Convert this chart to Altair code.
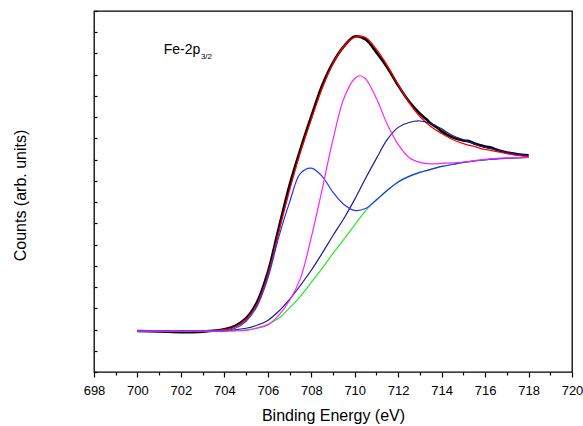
import altair as alt
import pandas as pd

# ---- data (binding energy in eV, counts in arb. units) ----
exp_energy = [700, 701, 702, 703, 704, 704.5, 705, 705.5, 706, 706.5, 707, 707.5, 708, 708.5,
              709, 709.5, 710, 710.5, 711, 711.5, 712, 712.5, 713, 713.3, 713.5, 713.8, 714,
              714.5, 715, 715.3, 715.5, 716, 716.3, 716.5, 717, 717.2, 717.5, 718]
exp_counts = [1930, 1915, 1880, 1900, 2010, 2170, 2530, 3280, 4690, 6760, 8790, 10480, 12030, 13490,
              14570, 15330, 15800, 15660, 15050, 14340, 13490, 12740, 12170, 11900, 11700, 11500, 11330,
              11050, 10900, 10860, 10760, 10620, 10560, 10480, 10340, 10300, 10250, 10200]

fit_energy = [700, 703, 703.5, 704, 704.5, 705, 705.5, 706, 706.5, 707, 707.5, 708, 708.5, 709,
              709.5, 710, 710.5, 711, 711.5, 712, 712.5, 713, 713.5, 714, 714.5, 715, 715.5, 716,
              716.5, 717, 717.5, 718]
fit_counts = [1930, 1930, 1940, 1990, 2130, 2480, 3190, 4550, 6570, 8550, 10340, 11890, 13350, 14530,
              15330, 15770, 15750, 15190, 14430, 13540, 12690, 12030, 11560, 11230, 10950, 10760, 10620, 10480,
              10390, 10290, 10200, 10150]

bg_energy = [700, 704, 704.5, 705, 705.5, 706, 706.5, 707, 707.5, 708, 708.5, 709, 709.5, 710,
             710.5, 711, 711.5, 712, 712.5, 713, 713.5, 714, 714.5, 715, 716, 717, 718]
bg_counts = [1930, 1930, 1950, 1990, 2080, 2250, 2530, 3020, 3560, 4220, 4880, 5590, 6250, 6930,
             7590, 8100, 8550, 8950, 9210, 9400, 9540, 9680, 9770, 9870, 9990, 10060, 10100]

p1_energy = [700, 703.5, 704, 704.5, 705, 705.5, 706, 706.5, 707, 707.5, 708, 708.5, 709, 709.5,
             710, 710.5, 711, 711.5, 712, 712.5, 713, 713.5, 714, 714.5, 715, 716, 717, 718]
p1_counts = [1930, 1930, 1940, 2060, 2390, 3090, 4410, 6340, 7990, 9350, 9600, 9210, 8460, 7890,
             7610, 7700, 8110, 8560, 8950, 9210, 9400, 9540, 9680, 9770, 9870, 9990, 10060, 10100]

p2_energy = [700, 704, 704.5, 705, 705.5, 706, 706.5, 707, 707.5, 708, 708.5, 709, 709.5, 710,
             710.25, 710.5, 711, 711.5, 712, 712.5, 713, 713.5, 714, 714.5, 715, 716, 717, 718]
p2_counts = [1930, 1930, 1940, 1960, 2060, 2220, 2670, 3370, 4410, 6340, 8600, 10950, 12880, 13820,
             13950, 13800, 12880, 11660, 10720, 10100, 9870, 9800, 9820, 9850, 9890, 10010, 10080, 10100]

p3_energy = [700, 703.5, 704, 704.5, 705, 705.5, 706, 706.5, 707, 707.5, 708, 708.5, 709, 709.5,
             710, 710.5, 711, 711.5, 712, 712.5, 713, 713.5, 714, 714.5, 715, 715.5, 716, 716.5,
             717, 717.5, 718]
p3_counts = [1930, 1930, 1940, 1990, 2060, 2200, 2430, 2860, 3420, 4080, 4790, 5590, 6430, 7230,
             8130, 9120, 10060, 10950, 11520, 11750, 11820, 11700, 11450, 11140, 10930, 10740, 10570, 10460,
             10340, 10250, 10200]

x_ticks = list(range(698, 721))
y_ticks = list(range(0, 17001, 1000))

label_main = ["Fe-2p"]
label_main_pos = ([701.21], [14980])
label_sub = ["3/2"]
label_sub_pos = ([702.92], [14750])

FONT = "Liberation Sans"

x_enc = alt.X(
    "energy:Q",
    title="Binding Energy (eV)",
    scale=alt.Scale(domain=[698, 720], nice=False, zero=False),
    axis=alt.Axis(
        values=x_ticks,
        labelExpr="datum.value % 2 === 0 ? datum.label : ''",
        format="d",
        tickSize={"condition": {"test": "datum.value % 2 === 0", "value": 5}, "value": 3},
        tickColor="black",
        tickWidth=1.2,
        domain=False,
        grid=False,
        labelOverlap=False,
        labelFlush=False,
        labelFont=FONT,
        labelFontSize=13,
        labelColor="black",
        labelPadding=7,
        titleFont=FONT,
        titleFontSize=16,
        titleFontWeight="normal",
        titleColor="black",
        titleBaseline="alphabetic",
        titleY=48,
    ),
)

y_enc = alt.Y(
    "counts:Q",
    title="Counts (arb. units)",
    scale=alt.Scale(domain=[0, 17000], nice=False, zero=False),
    axis=alt.Axis(
        values=y_ticks,
        labels=False,
        tickSize=3,
        offset=-3,
        tickColor="black",
        tickWidth=1.2,
        domain=False,
        grid=False,
        titleFont=FONT,
        titleFontSize=16,
        titleFontWeight="normal",
        titleColor="black",
        titleBaseline="middle",
        titleX=-77,
        titleY=184,
        titleAngle=270,
    ),
)


def line(energy, counts, color, width):
    df = pd.DataFrame({"energy": energy, "counts": counts})
    return alt.Chart(df).mark_line(
        color=color, strokeWidth=width, interpolate="catmull-rom"
    ).encode(x=x_enc, y=y_enc)


exp_line = line(exp_energy, exp_counts, "#000000", 2.6)
fit_line = line(fit_energy, fit_counts, "#ff0000", 1.3)
bg_line = line(bg_energy, bg_counts, "#22ee22", 1.2)
p3_line = line(p3_energy, p3_counts, "#1c1c90", 1.2)
p1_line = line(p1_energy, p1_counts, "#2233ff", 1.2)
p2_line = line(p2_energy, p2_counts, "#ff22ff", 1.2)

main_df = pd.DataFrame({"energy": label_main_pos[0], "counts": label_main_pos[1], "text": label_main})
sub_df = pd.DataFrame({"energy": label_sub_pos[0], "counts": label_sub_pos[1], "text": label_sub})

main_text = alt.Chart(main_df).mark_text(
    align="left", baseline="alphabetic", font=FONT, fontSize=14, color="black"
).encode(x=x_enc, y=y_enc, text="text:N")
sub_text = alt.Chart(sub_df).mark_text(
    align="left", baseline="alphabetic", font=FONT, fontSize=8, color="black"
).encode(x=x_enc, y=y_enc, text="text:N")

chart = alt.layer(
    exp_line, fit_line, bg_line, p3_line, p1_line, p2_line, main_text, sub_text
).properties(
    width=478,
    height=361,
    autosize=alt.AutoSizeParams(type="none"),
    padding={"left": 94, "top": 11, "right": 11, "bottom": 54},
    background="white",
).configure_view(
    stroke="black", strokeWidth=1.3
)

chart.save("out.html", embed_options={"renderer": "svg", "actions": False})
